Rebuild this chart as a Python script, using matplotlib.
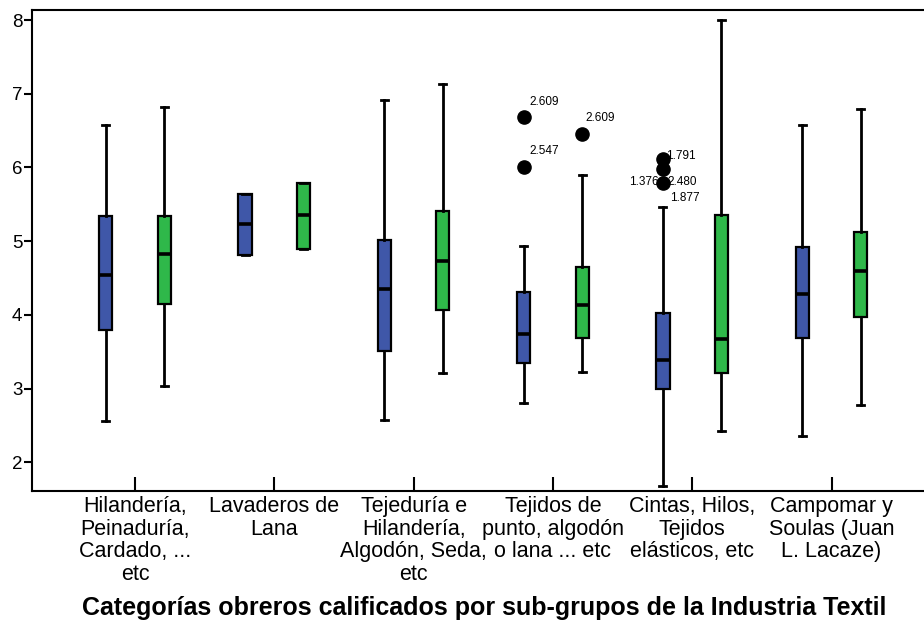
import numpy as np
import matplotlib.pyplot as plt

plt.rcParams['font.family'] = ['Liberation Sans', 'DejaVu Sans']

categorias = [
    "Hilandería,\nPeinaduría,\nCardado, ...\netc",
    "Lavaderos de\nLana",
    "Tejeduría e\nHilandería,\nAlgodón, Seda,\netc",
    "Tejidos de\npunto, algodón\no lana ... etc",
    "Cintas, Hilos,\nTejidos\nelásticos, etc",
    "Campomar y\nSoulas (Juan\nL. Lacaze)",
]

# serie azul
azul_min = [2.56, 4.81, 2.57, 2.81, 1.68, 2.36]
azul_q1 = [3.79, 4.81, 3.51, 3.35, 2.99, 3.69]
azul_med = [4.54, 5.23, 4.35, 3.74, 3.39, 4.28]
azul_q3 = [5.34, 5.64, 5.01, 4.31, 4.03, 4.92]
azul_max = [6.58, 5.64, 6.92, 4.94, 5.46, 6.58]
azul_atipicos = [[], [], [], [6.68, 6.01], [6.12, 5.98, 5.79], []]

# serie verde
verde_min = [3.03, 4.90, 3.21, 3.23, 2.43, 2.78]
verde_q1 = [4.15, 4.90, 4.07, 3.68, 3.21, 3.97]
verde_med = [4.82, 5.35, 4.73, 4.14, 3.67, 4.60]
verde_q3 = [5.34, 5.79, 5.41, 4.65, 5.35, 5.13]
verde_max = [6.82, 5.79, 7.13, 5.90, 8.00, 6.79]
verde_atipicos = [[], [], [], [6.46], [], []]

# etiquetas de casos atípicos: (categoria, serie, valor, texto, dx, dy, ha)
etiquetas = [
    (3, "azul", 6.68, "2.609", 4, 11, "left"),
    (3, "azul", 6.01, "2.547", 4, 11, "left"),
    (3, "verde", 6.46, "2.609", 2, 11, "left"),
    (4, "azul", 6.12, "1.791", 2, 2, "left"),
    (4, "azul", 5.79, "1.376", -3, 1, "right"),
    (4, "azul", 5.79, "2.480", 3, 1, "left"),
    (4, "azul", 5.79, "1.877", 5, -11, "left"),
]

azul = "#3f57a8"
verde = "#2fb84a"
desplaz = 0.21


def stats(lo, q1, med, q3, hi, fl):
    return [dict(whislo=a, q1=b, med=c, q3=d, whishi=e, fliers=f)
            for a, b, c, d, e, f in zip(lo, q1, med, q3, hi, fl)]


fig = plt.figure(figsize=(9.24, 6.24), dpi=100)
ax = fig.add_axes([0.0346, 0.2136, 0.9654, 0.7704])

x = np.arange(1, len(categorias) + 1)
series = [
    (stats(azul_min, azul_q1, azul_med, azul_q3, azul_max, azul_atipicos), x - desplaz, azul),
    (stats(verde_min, verde_q1, verde_med, verde_q3, verde_max, verde_atipicos), x + desplaz, verde),
]
for st, pos, color in series:
    ax.bxp(st, positions=pos, widths=0.095, capwidths=0.05, patch_artist=True,
           showfliers=True, manage_ticks=False,
           boxprops=dict(facecolor=color, edgecolor="black", linewidth=1.6),
           medianprops=dict(color="black", linewidth=2.6),
           whiskerprops=dict(color="black", linewidth=2),
           capprops=dict(color="black", linewidth=2),
           flierprops=dict(marker="o", markersize=9.5, markerfacecolor="black",
                           markeredgecolor="black"))

for cat, serie, val, txt, dx, dy, ha in etiquetas:
    xp = cat + 1 + (-desplaz if serie == "azul" else desplaz)
    ax.annotate(txt, (xp, val), xytext=(dx, dy), textcoords="offset points",
                ha=ha, va="center", fontsize=8.5)

ax.set_xlim(0.26, 6.664)
ax.set_ylim(1.615, 8.136)
ax.set_yticks([2, 3, 4, 5, 6, 7, 8])
ax.set_xticks(x)
ax.set_xticklabels(categorias, fontsize=15.5, linespacing=1.1)
ax.tick_params(axis="y", direction="out", length=6, width=1.5, labelsize=13.5, pad=1)
ax.tick_params(axis="x", direction="in", length=10, width=1.5, pad=4)
ax.spines["right"].set_visible(False)
for s in ["left", "top", "bottom"]:
    ax.spines[s].set_linewidth(1.5)

fig.text(0.524, 0.026, "Categorías obreros calificados por sub-grupos de la Industria Textil",
         ha="center", va="center", fontsize=18, fontweight="bold")

fig.savefig("out.png", dpi=100)
